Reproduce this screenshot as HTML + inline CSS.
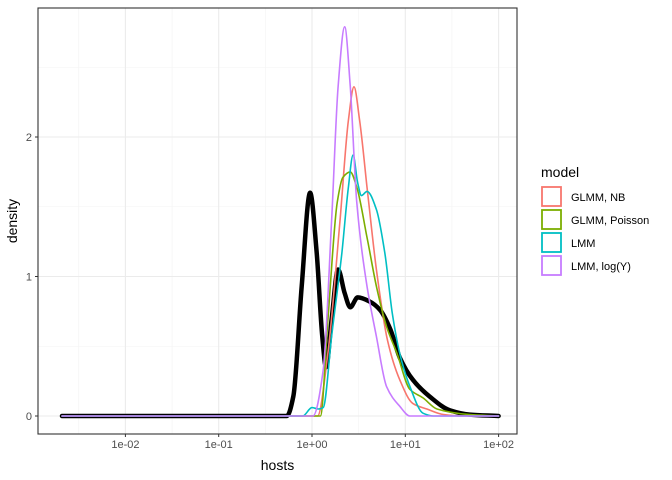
<!DOCTYPE html>
<html><head><meta charset="utf-8"><style>
body{margin:0;background:#fff;font-family:"Liberation Sans",sans-serif}
svg{display:block}
</style></head><body>
<svg id="c" width="672" height="480" xmlns="http://www.w3.org/2000/svg"></svg>
<script>
// log10(hosts) positions and densities per series
const xTicks=[-2,-1,0,1,2];
const xTickLabels=["1e-02","1e-01","1e+00","1e+01","1e+02"];
const yTicks=[0,1,2];
const seriesNames=["GLMM, NB","GLMM, Poisson","LMM","LMM, log(Y)"];
const seriesColors=["#F8766D","#7CAE00","#00BFC4","#C77CFF"];
const obsX=[-2.68,-0.27,-0.2,-0.11,-0.02,0.05,0.11,0.15,0.21,0.28,0.35,0.41,0.49,0.62,0.73,0.84,0.94,1.08,1.26,1.48,1.69,2.0];
const obsY=[0,0,0.14,0.93,1.60,1.17,0.57,0.35,0.69,1.05,0.88,0.78,0.85,0.82,0.76,0.62,0.42,0.26,0.14,0.04,0.01,0];
const nbX=[-2.68,0.06,0.17,0.30,0.39,0.45,0.51,0.59,0.69,0.81,0.94,1.08,1.23,1.41,1.6,2.0];
const nbY=[0,0,0.45,1.40,2.12,2.36,2.12,1.64,1.05,0.54,0.26,0.09,0.05,0.01,0,0];
const poisX=[-2.68,0.09,0.17,0.27,0.33,0.41,0.48,0.59,0.69,0.80,0.91,1.05,1.19,1.34,1.69,2.0];
const poisY=[0,0,0.69,1.53,1.71,1.75,1.64,1.28,0.93,0.64,0.45,0.19,0.13,0.05,0.01,0];
const lmmX=[-2.68,-0.1,0,0.07,0.12,0.21,0.32,0.39,0.44,0.49,0.53,0.59,0.69,0.78,0.86,0.94,1.05,1.19,1.3,2.0];
const lmmY=[0,0,0.06,0.05,0.06,0.57,1.17,1.64,1.87,1.67,1.58,1.61,1.48,1.17,0.74,0.45,0.21,0.02,0,0];
const logX=[-2.68,0.01,0.12,0.21,0.28,0.35,0.41,0.48,0.59,0.69,0.80,0.94,1.05,2.0];
const logY=[0,0,0.33,1.40,2.36,2.79,2.36,1.53,0.93,0.57,0.21,0.07,0,0];

const NS="http://www.w3.org/2000/svg";
const svg=document.getElementById('c');
const L=38,R=517,T=8,B=434;
const xs=v=>312+v*93.3;
const ys=v=>416-v*139.5;
function mk(tag,attrs,parent){const e=document.createElementNS(NS,tag);for(const k in attrs)e.setAttribute(k,attrs[k]);(parent||svg).appendChild(e);return e;}
const panel=mk('rect',{x:L,y:T,width:R-L,height:B-T,fill:'#fff'});


[-2.5,-1.5,-0.5,0.5,1.5].forEach(v=>{const g=mk('line',{x1:xs(v),x2:xs(v),y1:T,y2:B,stroke:'#f3f3f3','stroke-width':0.6});});
[0.5,1.5,2.5].forEach(v=>{const g=mk('line',{x1:L,x2:R,y1:ys(v),y2:ys(v),stroke:'#f3f3f3','stroke-width':0.6});});
xTicks.forEach((v,i)=>{
 const g=mk('line',{x1:xs(v),x2:xs(v),y1:T,y2:B,stroke:'#ebebeb','stroke-width':1.1});
 
 const t=mk('line',{x1:xs(v),x2:xs(v),y1:B,y2:B+3,stroke:'#333'});
 
 const l=mk('text',{x:xs(v),y:B+14,'text-anchor':'middle','font-size':'11','fill':'#4d4d4d'});l.textContent=xTickLabels[i];
 
});
yTicks.forEach(v=>{
 const g=mk('line',{x1:L,x2:R,y1:ys(v),y2:ys(v),stroke:'#ebebeb','stroke-width':1.1});
 
 const t=mk('line',{x1:L-3,x2:L,y1:ys(v),y2:ys(v),stroke:'#333'});
 
 const l=mk('text',{x:L-6,y:ys(v)+4,'text-anchor':'end','font-size':'11','fill':'#4d4d4d'});l.textContent=String(v);
 
});
// monotone cubic (Fritsch-Carlson) path
function path(xa,ya,color,w,name){
 const P=xa.map((x,i)=>[xs(x),ys(ya[i])]);
 const n=P.length,s=[],m=[];
 for(let i=0;i<n-1;i++)s.push((P[i+1][1]-P[i][1])/(P[i+1][0]-P[i][0]));
 m[0]=s[0];m[n-1]=s[n-2];
 for(let i=1;i<n-1;i++){
  if(s[i-1]*s[i]<=0)m[i]=0;
  else{const h0=P[i][0]-P[i-1][0],h1=P[i+1][0]-P[i][0];
   m[i]=3*(h0+h1)/((2*h1+h0)/s[i-1]+(h1+2*h0)/s[i]);}
 }
 let d='M'+P[0][0].toFixed(1)+','+P[0][1].toFixed(1);
 for(let i=0;i<n-1;i++){
  const h=(P[i+1][0]-P[i][0])/3;
  d+='C'+(P[i][0]+h).toFixed(1)+','+(P[i][1]+m[i]*h).toFixed(1)+' '+(P[i+1][0]-h).toFixed(1)+','+(P[i+1][1]-m[i+1]*h).toFixed(1)+' '+P[i+1][0].toFixed(1)+','+P[i+1][1].toFixed(1);
 }
 const p=mk('path',{d:d,fill:'none',stroke:color,'stroke-width':w,'stroke-linejoin':'round','stroke-linecap':'round'});
 
}
path(obsX,obsY,'#000',4.5,'observed-density-line');
path(nbX,nbY,seriesColors[0],1.6,'glmm-nb-line');
path(poisX,poisY,seriesColors[1],1.6,'glmm-poisson-line');
path(lmmX,lmmY,seriesColors[2],1.6,'lmm-line');
path(logX,logY,seriesColors[3],1.6,'lmm-log-line');
const br=mk('rect',{x:L,y:T,width:R-L,height:B-T,fill:'none',stroke:'#333','stroke-width':1.1});

const xt=mk('text',{x:(L+R)/2,y:470,'text-anchor':'middle','font-size':'14','fill':'#000'});xt.textContent='hosts';

const yt=mk('text',{x:0,y:0,transform:'translate(17,'+((T+B)/2)+') rotate(-90)','text-anchor':'middle','font-size':'14','fill':'#000'});yt.textContent='density';

const lt=mk('text',{x:541,y:177,'font-size':'14','fill':'#000'});lt.textContent='model';

seriesNames.forEach((n,i)=>{
 const y=187+i*23;
 const k=mk('rect',{x:542,y:y,width:19,height:19,fill:'#fff',stroke:seriesColors[i],'stroke-width':1.8});
 
 const t=mk('text',{x:571,y:y+14,'font-size':'11','fill':'#000'});t.textContent=n;
 
});
</script>
</body></html>
